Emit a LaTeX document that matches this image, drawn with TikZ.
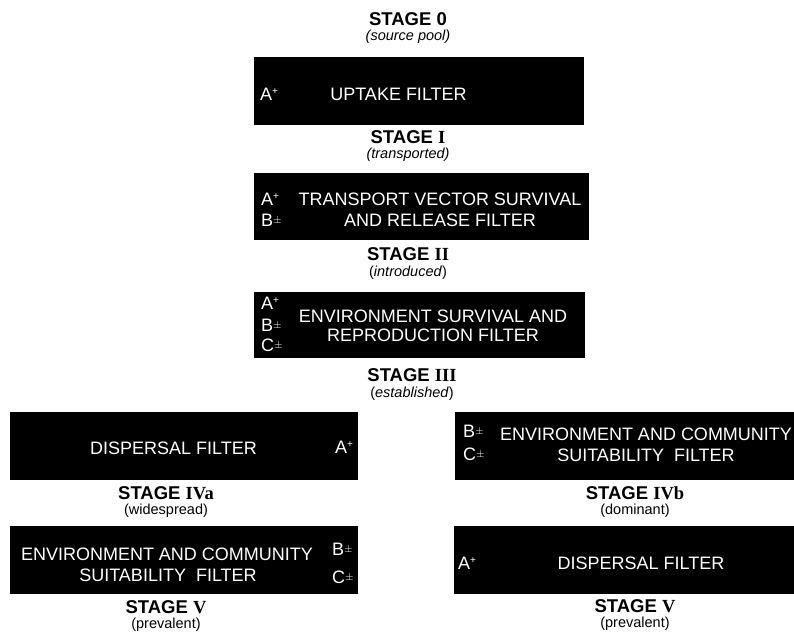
\documentclass[tikz,border=0pt]{standalone}
\usepackage{fontspec}
\setmainfont{Liberation Sans}
\newfontfamily\romfont{Liberation Serif}
\newcommand{\Ap}{A\raisebox{0.33em}{\fontsize{10}{10}\selectfont +}}
\newcommand{\pmtag}[1]{#1\raisebox{0.12em}{\fontsize{11}{11}\selectfont $\pm$}}
\begin{document}
\begin{tikzpicture}[x=1pt,y=-1pt,
  filt/.style={fill=black,draw=none,inner sep=0pt,outer sep=0pt},
  ftext/.style={text=white,font=\fontsize{18}{21}\selectfont,anchor=base,inner sep=0pt},
  tagl/.style={text=white,font=\fontsize{18}{21}\selectfont,anchor=base west,inner sep=0pt},
  stage/.style={font=\fontsize{18.5}{21}\selectfont\bfseries,anchor=base,inner sep=0pt},
  sub/.style={font=\fontsize{14.5}{17}\selectfont,anchor=base,inner sep=0pt}]
\useasboundingbox (0,0) rectangle (794,633);

% boxes
\node[filt,minimum width=330pt,minimum height=68pt] (b1) at (419,91) {};
\node[filt,minimum width=335pt,minimum height=67pt] (b2) at (421.5,206.5) {};
\node[filt,minimum width=331pt,minimum height=66pt] (b3) at (419.5,325) {};
\node[filt,minimum width=348pt,minimum height=68pt] (b4a) at (184,446) {};
\node[filt,minimum width=348pt,minimum height=68pt] (b5a) at (184,560) {};
\node[filt,minimum width=339pt,minimum height=68pt] (b4b) at (624.5,446) {};
\node[filt,minimum width=340pt,minimum height=68pt] (b5b) at (624,560) {};

% stage labels
\node[stage] (s0) at (408,25) {STAGE 0};
\node[sub] (s0s) at (408,40) {\itshape (source pool)};
\node[stage] (s1) at (408,143) {STAGE {\romfont I}};
\node[sub] (s1s) at (408,158) {\itshape (transported)};
\node[stage] (s2) at (408,260) {STAGE {\romfont II}};
\node[sub] (s2s) at (408,276) {(\textit{introduced})};
\node[stage] (s3) at (412,381) {STAGE {\romfont III}};
\node[sub] (s3s) at (412,397) {(\textit{established})};
\node[stage] (s4a) at (166,499) {STAGE {\romfont IVa}};
\node[sub] (s4as) at (166,514) {(widespread)};
\node[stage] (s5a) at (166,613) {STAGE {\romfont V}};
\node[sub] (s5as) at (166,628) {(prevalent)};
\node[stage] (s4b) at (635,499) {STAGE {\romfont IVb}};
\node[sub] (s4bs) at (635,514) {(dominant)};
\node[stage] (s5b) at (635,612) {STAGE {\romfont V}};
\node[sub] (s5bs) at (635,627) {(prevalent)};

% box 1
\node[ftext] (t1) at (398.5,100) {UPTAKE FILTER};
\node[tagl] (a1) at (260,100) {\Ap};
% box 2
\node[ftext] (t2a) at (440,205) {TRANSPORT VECTOR SURVIVAL};
\node[ftext] (t2b) at (440,226) {AND RELEASE FILTER};
\node[tagl] (a2) at (261,205) {\Ap};
\node[tagl] (b2t) at (261,226) {\pmtag{B}};
% box 3
\node[ftext] (t3a) at (433,322) {ENVIRONMENT SURVIVAL AND};
\node[ftext] (t3b) at (433,341) {REPRODUCTION FILTER};
\node[tagl] (a3) at (261,309) {\Ap};
\node[tagl] (b3t) at (261,331) {\pmtag{B}};
\node[tagl] (c3t) at (261,351) {\pmtag{C}};
% box IVa
\node[ftext] (t4a) at (173.5,454) {DISPERSAL FILTER};
\node[tagl] (a4a) at (335,453) {\Ap};
% box V left
\node[ftext] (t5aa) at (167,560) {ENVIRONMENT AND COMMUNITY};
\node[ftext] (t5ab) at (168,581) {SUITABILITY\hspace{0.556em}FILTER};
\node[tagl] (b5at) at (332,555) {\pmtag{B}};
\node[tagl] (c5at) at (332,583) {\pmtag{C}};
% box IVb
\node[ftext] (t4ba) at (646,440) {ENVIRONMENT AND COMMUNITY};
\node[ftext] (t4bb) at (646,461) {SUITABILITY\hspace{0.556em}FILTER};
\node[tagl] (b4bt) at (463,437) {\pmtag{B}};
\node[tagl] (c4bt) at (463,460) {\pmtag{C}};
% box V right
\node[ftext] (t5b) at (641,569) {DISPERSAL FILTER};
\node[tagl] (a5b) at (458,569) {\Ap};
\end{tikzpicture}
\end{document}
